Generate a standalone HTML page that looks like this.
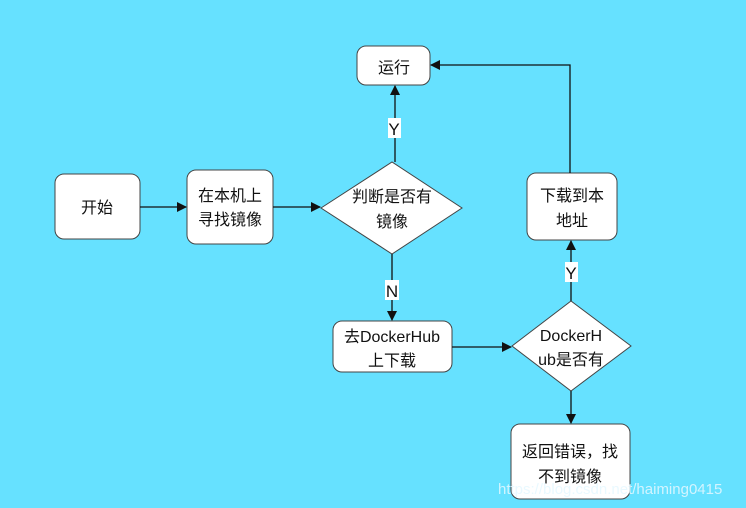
<!DOCTYPE html>
<html><head><meta charset="utf-8"><style>
body{margin:0;width:746px;height:508px;background:#66e1ff;overflow:hidden;font-family:"Liberation Sans","Noto Sans CJK SC",sans-serif;}
</style></head><body>
<svg width="746" height="508" xmlns="http://www.w3.org/2000/svg" style="position:absolute;left:0;top:0">
<defs><marker id="a" markerWidth="10" markerHeight="10" refX="9" refY="5" orient="auto" markerUnits="userSpaceOnUse"><path d="M0,0 L10,5 L0,10 z" fill="#111"/></marker></defs>
<g fill="#fff" stroke="#444" stroke-width="1">
<rect x="357" y="46" width="73" height="39" rx="9"/>
<rect x="55" y="174" width="85" height="65" rx="9"/>
<rect x="187" y="170" width="86" height="74" rx="9"/>
<polygon points="321,208 392,162 462,208 392,254"/>
<rect x="333" y="321" width="119" height="51" rx="9"/>
<polygon points="512,346 571,301 631,346 571,391"/>
<rect x="527" y="173" width="90" height="67" rx="9"/>
<rect x="511" y="424" width="119" height="75" rx="9"/>
</g>
<g stroke="#111" stroke-width="1.3" fill="none">
<line x1="140" y1="207" x2="186" y2="207" marker-end="url(#a)"/>
<line x1="273" y1="207" x2="320" y2="207" marker-end="url(#a)"/>
<line x1="395" y1="162" x2="395" y2="86" marker-end="url(#a)"/>
<line x1="392" y1="254" x2="392" y2="320" marker-end="url(#a)"/>
<line x1="452" y1="347" x2="511" y2="347" marker-end="url(#a)"/>
<line x1="571" y1="301" x2="571" y2="241" marker-end="url(#a)"/>
<line x1="571" y1="391" x2="571" y2="423" marker-end="url(#a)"/>
<polyline points="570,173 570,65 431,65" marker-end="url(#a)"/>
</g>
<g fill="#fff"><rect x="388" y="118" width="13" height="20"/><rect x="385" y="280" width="14" height="20"/><rect x="565" y="262" width="13" height="20"/></g>
<g font-size="16" fill="#111" text-anchor="middle">
<text x="394" y="73">运行</text>
<text x="97" y="213">开始</text>
<text x="230" y="201">在本机上</text><text x="230" y="225">寻找镜像</text>
<text x="392" y="202">判断是否有</text><text x="392" y="227">镜像</text>
<text x="392" y="342">去DockerHub</text><text x="392" y="366">上下载</text>
<text x="571" y="341">DockerH</text><text x="571" y="365">ub是否有</text>
<text x="572" y="201">下载到本</text><text x="572" y="226">地址</text>
<text x="570" y="457">返回错误，找</text><text x="570" y="482">不到镜像</text>
<g font-size="17"><text x="394" y="135">Y</text><text x="392" y="297">N</text><text x="571" y="279">Y</text></g>
</g>
<text x="498" y="494" font-size="15" fill="#e6f8ff" opacity="0.85">https://blog.csdn.net/haiming0415</text>
</svg>
</body></html>
